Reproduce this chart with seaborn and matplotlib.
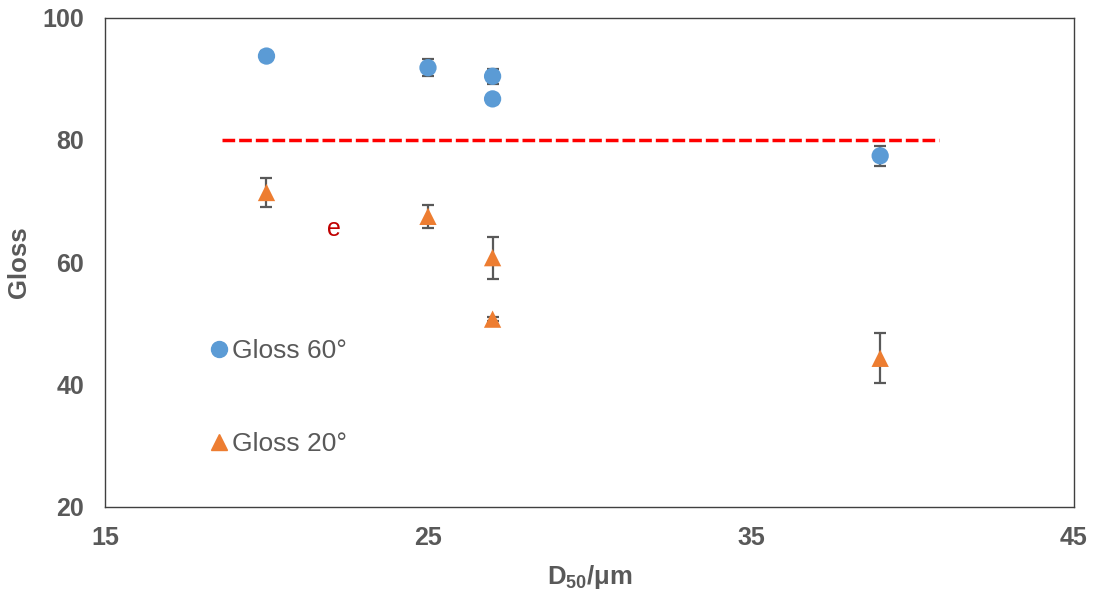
import matplotlib
matplotlib.use("Agg")
import matplotlib.pyplot as plt
import seaborn as sns
import pandas as pd
from matplotlib.lines import Line2D

# Particle size D50 (µm) and measured gloss with standard deviations
d50_60 = [20, 25, 27, 27, 39]
gloss_60 = [93.7, 91.8, 90.4, 86.7, 77.4]
err_60 = [0.8, 1.4, 1.2, 0.8, 1.6]

d50_20 = [20, 25, 27, 27, 39]
gloss_20 = [71.4, 67.5, 60.75, 50.7, 44.3]
err_20 = [2.3, 1.9, 3.45, 0.3, 4.1]

series_names = ["Gloss 60°", "Gloss 20°"]
threshold = 80
threshold_span = [18.62, 40.83]
x_ticks = [15, 25, 35, 45]
y_ticks = [20, 40, 60, 80, 100]

sns.set_theme(style="white")
plt.rcParams["font.family"] = ["Liberation Sans", "DejaVu Sans"]
plt.rcParams["mathtext.fontset"] = "custom"
plt.rcParams["mathtext.rm"] = "Liberation Sans:bold"
plt.rcParams["mathtext.bf"] = "Liberation Sans:bold"

text_gray = "#595959"
blue = "#5B9BD5"
orange = "#ED7D31"

df = pd.DataFrame({
    "D50": d50_60 + d50_20,
    "Gloss": gloss_60 + gloss_20,
    "err": err_60 + err_20,
    "series": [series_names[0]] * len(d50_60) + [series_names[1]] * len(d50_20),
})

fig = plt.figure(figsize=(10.96, 5.94), dpi=100)
ax = fig.add_axes([0.0958, 0.1465, 0.8841, 0.824])

# error bars beneath the markers
for name in series_names:
    sub = df[df["series"] == name]
    ax.errorbar(sub["D50"], sub["Gloss"], yerr=sub["err"], fmt="none",
                ecolor=text_gray, elinewidth=1.6, capsize=4.3, capthick=1.6, zorder=2)

sns.scatterplot(data=df, x="D50", y="Gloss", hue="series", style="series",
                palette={series_names[0]: blue, series_names[1]: orange},
                markers={series_names[0]: "o", series_names[1]: "^"},
                s=155, linewidth=0, ax=ax, zorder=3, legend=False)

# target gloss threshold
ax.plot(threshold_span, [threshold, threshold], color="#FF0000", lw=2.5,
        dashes=(3.65, 1.15), zorder=1)

ax.text(22.09, 65.5, "e", color="#C00000", fontsize=18, ha="center", va="center")

ax.set_xlim(15, 45)
ax.set_ylim(20, 100)
ax.set_xticks(x_ticks)
ax.set_yticks(y_ticks)
ax.tick_params(axis="x", length=0, labelsize=18, labelcolor=text_gray, pad=14)
ax.tick_params(axis="y", length=0, labelsize=18, labelcolor=text_gray, pad=15)
for lab in ax.get_xticklabels() + ax.get_yticklabels():
    lab.set_fontweight("bold")

ax.set_xlabel(r"D$_{50}$/μm", fontsize=18.5, fontweight="bold", color=text_gray, labelpad=9)
ax.set_ylabel("Gloss", fontsize=18.5, fontweight="bold", color=text_gray, labelpad=8)

for sp in ax.spines.values():
    sp.set_color("#404040")
    sp.set_linewidth(1.0)

handles = [
    Line2D([], [], marker="o", color=blue, linestyle="none", markersize=11.5),
    Line2D([], [], marker="^", color=orange, linestyle="none", markersize=11.5),
]
ax.legend(handles, series_names, loc="center left", bbox_to_anchor=(0.1094, 0.2237),
          frameon=False, fontsize=19, labelspacing=2.6, handlelength=0.6,
          handletextpad=0.2, borderpad=0, borderaxespad=0, labelcolor=text_gray)

fig.savefig("out.png", dpi=100)
